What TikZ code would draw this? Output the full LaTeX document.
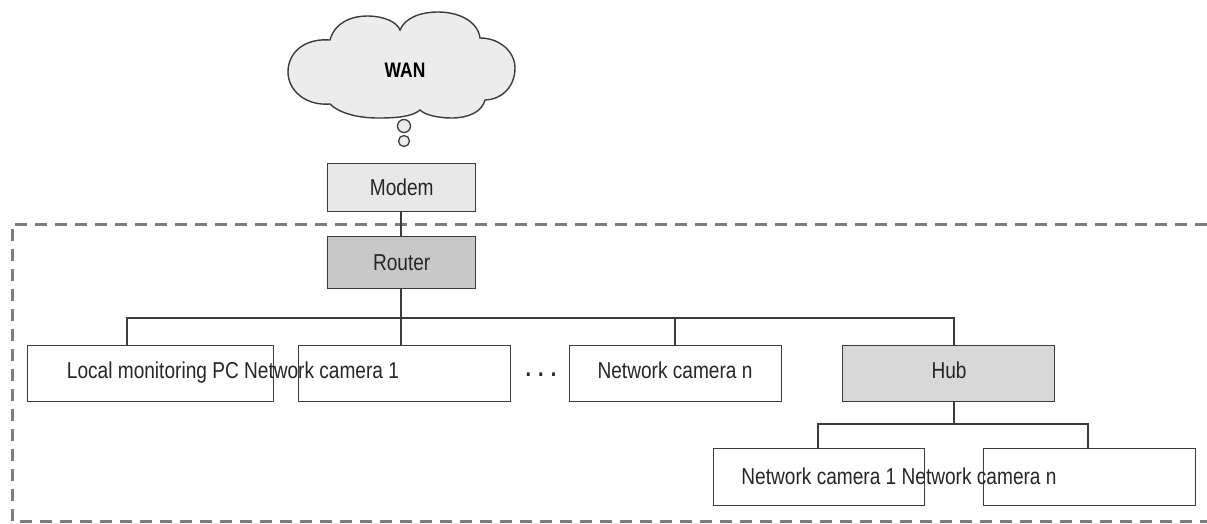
\documentclass[tikz,border=0pt]{standalone}
\usepackage{fontspec}
\setmainfont{Liberation Sans}[FakeStretch=0.83]
\definecolor{lineC}{RGB}{60,60,60}
\definecolor{dashC}{RGB}{125,125,125}
\definecolor{lightF}{RGB}{236,236,236}
\definecolor{modemF}{RGB}{232,232,232}
\definecolor{routerF}{RGB}{200,200,200}
\definecolor{hubF}{RGB}{216,216,216}
\tikzset{
  box/.style={draw=lineC, line width=1.4pt, minimum width=#1, minimum height=56pt, inner sep=0pt, anchor=north west},
  lbl/.style={font=\fontsize{23}{25}\selectfont, text=black!85, inner sep=0pt, anchor=base},
  wire/.style={draw=lineC, line width=1.3pt},
  dashbox/.style={draw=dashC, line width=3pt, dash pattern=on 12pt off 8pt},
  bubble/.style={circle, draw=lineC, line width=1.3pt, fill=lightF, inner sep=0pt},
}
\begin{document}
\begin{tikzpicture}[x=1pt,y=-1pt]
\useasboundingbox (0,0) rectangle (1207,523);
% dashed boundary
\draw[dashbox] (1207,224) -- (12,224) -- (12,521) -- (1207,521);
% cloud
\coordinate (wan) at (402,65);
\draw[draw=lineC, line width=1.4pt, fill=lightF]
  (330,104) .. controls (305,106) and (288,90) .. (288,72)
  .. controls (288,52) and (305,38) .. (330,40)
  .. controls (335,22) and (352,16) .. (367,16)
  .. controls (384,16) and (397,22) .. (400,30)
  .. controls (405,18) and (420,12) .. (438,12)
  .. controls (460,12) and (478,22) .. (480,38)
  .. controls (500,38) and (515,52) .. (515,68)
  .. controls (515,88) and (500,100) .. (485,100)
  .. controls (482,112) and (468,118) .. (452,118)
  .. controls (438,118) and (425,115) .. (420,110)
  .. controls (412,117) and (395,118) .. (378,118)
  .. controls (355,118) and (338,112) .. (330,104) -- cycle;
\node[font=\bfseries\fontsize{21}{23}\selectfont, inner sep=0pt, anchor=base] (wantxt) at (405,77) {WAN};
\node[bubble, minimum size=13pt] (c1) at (404,126) {};
\node[bubble, minimum size=11pt] (c2) at (404,141) {};
% modem and router
\node[box=148pt, minimum height=48pt, fill=modemF] (modem) at (327,163) {};
\node[lbl] at ([yshift=-8pt]modem.center) {Modem};
\node[box=148pt, minimum height=52pt, fill=routerF] (router) at (327,236) {};
\node[lbl] at ([yshift=-8pt]router.center) {Router};
% row of devices
\node[box=246pt] (pc) at (27,345) {};
\node[box=212pt] (cam1) at (298,345) {};
\node[box=212pt] (camn) at (569,345) {};
\node[box=212pt, fill=hubF] (hub) at (842,345) {};
\node[lbl] (pctxt) at (233,378) {Local monitoring PC Network camera 1};
\node[lbl, font=\bfseries\fontsize{24}{26}\selectfont] (dots) at (541,376) {.\hspace{7pt}.\hspace{7pt}.};
\node[lbl] at (675,378) {Network camera n};
\node[lbl] at (949,378) {Hub};
% hub children
\node[box=211pt, minimum height=57pt] (hc1) at (713,448) {};
\node[box=212pt, minimum height=57pt] (hcn) at (983,448) {};
\node[lbl] (hctxt) at (899,484) {Network camera 1 Network camera n};
% connectors
\coordinate (bus) at (401,318);
\coordinate (sub) at (954,424);
\draw[wire] (modem.south -| bus) -- (router.north -| bus);
\draw[wire] (router.south -| bus) -- (bus);
\draw[wire] (pc.north -| 127,0) |- (bus) -| (hub.north -| 954,0);
\draw[wire] (bus) -- (cam1.north -| bus);
\draw[wire] (675,318) -- (camn.north -| 675,0);
\draw[wire] (hub.south -| sub) -- (sub);
\draw[wire] (hc1.north -| 818,0) |- (sub) -| (hcn.north -| 1088,0);
\end{tikzpicture}
\end{document}
